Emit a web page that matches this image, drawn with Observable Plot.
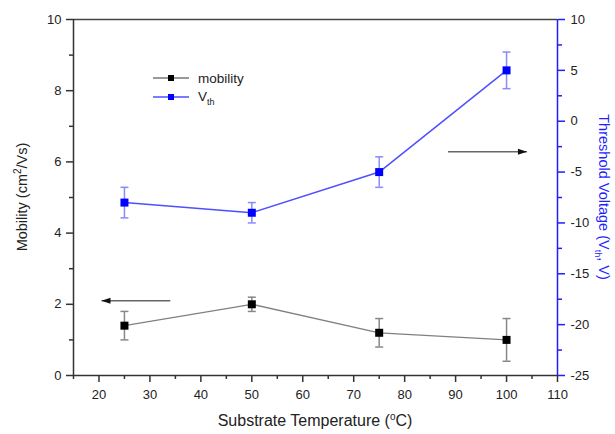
<!DOCTYPE html>
<html><head><meta charset="utf-8">
<script src="https://cdn.jsdelivr.net/npm/d3@7"></script>
<script src="https://cdn.jsdelivr.net/npm/@observablehq/plot@0.6"></script>
<style>body{margin:0;background:#fff;} svg{display:block;}</style>
</head><body><div id="chart"></div>
<script>
// ---- data ----
const temperatures = [25, 50, 75, 100];
const mobility = [1.4, 2.0, 1.2, 1.0];
const mobilityErr = [0.4, 0.2, 0.4, 0.6];
const vth = [-8, -9, -5, 5];
const vthErr = [1.5, 1.0, 1.5, 1.8];

const xTicks = [20, 30, 40, 50, 60, 70, 80, 90, 100, 110];
const xMinor = [15, 25, 35, 45, 55, 65, 75, 85, 95, 105];
const mobilityTicks = [0, 2, 4, 6, 8, 10];
const mobilityMinor = [1, 3, 5, 7, 9];
const vthTicks = [-25, -20, -15, -10, -5, 0, 5, 10];
const vthMinor = [-22.5, -17.5, -12.5, -7.5, -2.5, 2.5, 7.5];

const xDomain = [15, 110];
const mobilityDomain = [0, 10];
const vthDomain = [-25, 10];

// direction arrows: [from, to] temperature, at a level on their own axis
const arrowMobility = {x1: 34, x2: 20.5, y: 2.1};
const arrowVth = {x1: 88.5, x2: 104, y: -3};

// ---- helpers ----
const toLeft = v => (v - vthDomain[0]) / (vthDomain[1] - vthDomain[0]) * (mobilityDomain[1] - mobilityDomain[0]) + mobilityDomain[0];
const fromLeft = m => (m - mobilityDomain[0]) / (mobilityDomain[1] - mobilityDomain[0]) * (vthDomain[1] - vthDomain[0]) + vthDomain[0];

const mob = temperatures.map((t, i) => ({t, y: mobility[i], lo: mobility[i] - mobilityErr[i], hi: mobility[i] + mobilityErr[i]}));
const vt = temperatures.map((t, i) => ({t, y: toLeft(vth[i]), lo: toLeft(vth[i] - vthErr[i]), hi: toLeft(vth[i] + vthErr[i])}));
const arrows = [
  {x1: arrowMobility.x1, x2: arrowMobility.x2, y: arrowMobility.y},
  {x1: arrowVth.x1, x2: arrowVth.x2, y: toLeft(arrowVth.y)}
];

const square = {draw(ctx) { ctx.rect(-4, -4, 8, 8); }};
const cap = {draw(ctx) { ctx.moveTo(-4, 0); ctx.lineTo(4, 0); }};
const head = {draw(ctx) { ctx.moveTo(0, 0); ctx.lineTo(9, -3); ctx.lineTo(9, 3); ctx.closePath(); }};

const FONT = "'Liberation Sans', Arial, Helvetica, sans-serif";
const AX = "#333";
const BLUE = "#1f1fff";

const chart = Plot.plot({
  width: 615, height: 434,
  marginLeft: 73, marginRight: 58, marginTop: 19, marginBottom: 59,
  style: {fontFamily: FONT, fontSize: "13px", color: "#222", background: "#fff"},
  x: {domain: xDomain, label: null},
  y: {domain: mobilityDomain, label: null},
  marks: [
    // frame
    Plot.ruleY([mobilityDomain[1]], {stroke: "#444", strokeWidth: 1.5}),
    Plot.ruleY([mobilityDomain[0]], {stroke: AX, strokeWidth: 1.5}),
    Plot.ruleX([xDomain[0]], {stroke: AX, strokeWidth: 1.5}),
    Plot.ruleX([xDomain[1]], {stroke: BLUE, strokeWidth: 1.5}),
    // axes
    Plot.axisX({ticks: xTicks, tickSize: 7, tickPadding: 7, stroke: AX, fill: "#222", strokeWidth: 1.5, fontSize: 13, label: null}),
    Plot.axisX({ticks: xMinor, tickSize: 4, tickFormat: () => "", stroke: AX, strokeWidth: 1.5, label: null}),
    Plot.axisY({ticks: mobilityTicks, tickSize: 7, tickPadding: 5, stroke: AX, fill: "#222", strokeWidth: 1.5, fontSize: 13, label: null}),
    Plot.axisY({ticks: mobilityMinor, tickSize: 4, tickFormat: () => "", stroke: AX, strokeWidth: 1.5, label: null}),
    Plot.axisY({anchor: "right", ticks: vthTicks.map(toLeft), tickFormat: d => String(Math.round(fromLeft(d))), tickSize: 7, tickPadding: 6, stroke: BLUE, fill: "#222", strokeWidth: 1.5, fontSize: 13, label: null}),
    Plot.axisY({anchor: "right", ticks: vthMinor.map(toLeft), tickSize: 4, tickFormat: () => "", stroke: BLUE, strokeWidth: 1.5, label: null}),
    // arrows
    Plot.link(arrows, {x1: "x1", x2: "x2", y1: "y", y2: "y", stroke: "#666", strokeWidth: 1.3}),
    Plot.dot(arrows, {x: "x2", y: "y", symbol: head, fill: "#111", stroke: "none", rotate: d => d.x2 < d.x1 ? 0 : 180}),
    // mobility
    Plot.ruleX(mob, {x: "t", y1: "lo", y2: "hi", stroke: "#888", strokeWidth: 1.5}),
    Plot.dot(mob, {x: "t", y: "lo", symbol: cap, stroke: "#888", fill: "none", strokeWidth: 1.5}),
    Plot.dot(mob, {x: "t", y: "hi", symbol: cap, stroke: "#888", fill: "none", strokeWidth: 1.5}),
    Plot.line(mob, {x: "t", y: "y", stroke: "#808080", strokeWidth: 1.3}),
    Plot.dot(mob, {x: "t", y: "y", symbol: square, fill: "#000", stroke: "none"}),
    // Vth
    Plot.ruleX(vt, {x: "t", y1: "lo", y2: "hi", stroke: "#8a8aff", strokeWidth: 1.5}),
    Plot.dot(vt, {x: "t", y: "lo", symbol: cap, stroke: "#8a8aff", fill: "none", strokeWidth: 1.5}),
    Plot.dot(vt, {x: "t", y: "hi", symbol: cap, stroke: "#8a8aff", fill: "none", strokeWidth: 1.5}),
    Plot.line(vt, {x: "t", y: "y", stroke: "#4f4fff", strokeWidth: 1.5}),
    Plot.dot(vt, {x: "t", y: "y", symbol: square, fill: "#0000ff", stroke: "none"})
  ]
});
document.getElementById("chart").appendChild(chart);

// ---- titles and legend ----
const svg = d3.select(chart);
const g = svg.append("g").attr("font-family", FONT).attr("fill", "#222");

// x title
const xt = g.append("text").attr("x", 315).attr("y", 426).attr("text-anchor", "middle").attr("font-size", 16);
xt.append("tspan").text("Substrate Temperature (");
xt.append("tspan").attr("font-size", 10).attr("dy", -6).text("o");
xt.append("tspan").attr("dy", 6).text("C)");

// left title
const lt = g.append("text").attr("transform", "translate(27,197) rotate(-90)").attr("text-anchor", "middle").attr("font-size", 14.5);
lt.append("tspan").text("Mobility (cm");
lt.append("tspan").attr("font-size", 10).attr("dy", -6).text("2");
lt.append("tspan").attr("dy", 6).text("/Vs)");

// right title
const rt = g.append("text").attr("transform", "translate(599,197) rotate(90)").attr("text-anchor", "middle").attr("font-size", 14.5).attr("fill", BLUE);
rt.append("tspan").text("Threshold Voltage (V");
rt.append("tspan").attr("font-size", 9).attr("dy", 4).text("th");
rt.append("tspan").attr("dy", -4).text(", V)");

// legend
const lg = g.append("g").attr("font-size", 13.5).attr("text-anchor", "start");
lg.append("line").attr("x1", 153).attr("x2", 189).attr("y1", 78).attr("y2", 78).attr("stroke", "#777").attr("stroke-width", 1.5);
lg.append("rect").attr("x", 168).attr("y", 75).attr("width", 6).attr("height", 6).attr("fill", "#000");
lg.append("text").attr("x", 198).attr("y", 83).text("mobility");
lg.append("line").attr("x1", 153).attr("x2", 189).attr("y1", 97).attr("y2", 97).attr("stroke", "#4f4fff").attr("stroke-width", 1.5);
lg.append("rect").attr("x", 168).attr("y", 94).attr("width", 6).attr("height", 6).attr("fill", "#0000ff");
const vl = lg.append("text").attr("x", 198).attr("y", 101);
vl.append("tspan").text("V");
vl.append("tspan").attr("font-size", 9).attr("dy", 4).text("th");
</script>
</body></html>
